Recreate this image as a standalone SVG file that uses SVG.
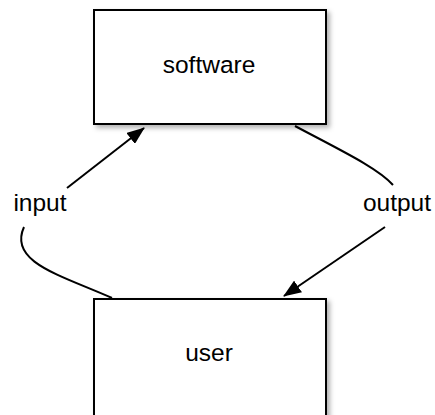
<svg xmlns="http://www.w3.org/2000/svg" width="435" height="415" viewBox="0 0 435 415">
<style>
.box{fill:#fff;stroke:#000;stroke-width:2;filter:url(#sh)}
.lbl{font-family:"Liberation Sans",Arial,sans-serif;font-size:24.5px;fill:#000;text-anchor:middle}
.edge{fill:none;stroke:#000;stroke-width:2}
</style>
<defs>
<filter id="sh" x="-10%" y="-10%" width="130%" height="130%">
<feDropShadow dx="3" dy="3" stdDeviation="2.5" flood-color="#000" flood-opacity="0.3"/>
</filter>
<marker id="ah" markerWidth="18" markerHeight="14" refX="17" refY="7" orient="auto" markerUnits="userSpaceOnUse">
<path d="M0,0 L18,7 L0,14 Z" fill="#000"/>
</marker>
</defs>
<rect width="435" height="415" fill="#fff"/>
<g id="software">
<rect class="box" x="94" y="10" width="232" height="114"/>
<text class="lbl" x="209" y="73">software</text>
</g>
<g id="user">
<rect class="box" x="94" y="299" width="232" height="130"/>
<text class="lbl" x="209" y="361">user</text>
</g>
<g id="connectors">
<path class="edge" d="M112,298 C60,275 8,262 24,227"/>
<path class="edge" d="M67,188 L144,128" marker-end="url(#ah)"/>
<text class="lbl" x="40" y="211">input</text>
<path class="edge" d="M295,126 C340,150 378,168 393,185"/>
<path class="edge" d="M385,227 L284,296" marker-end="url(#ah)"/>
<text class="lbl" x="397" y="211">output</text>
</g>
</svg>
